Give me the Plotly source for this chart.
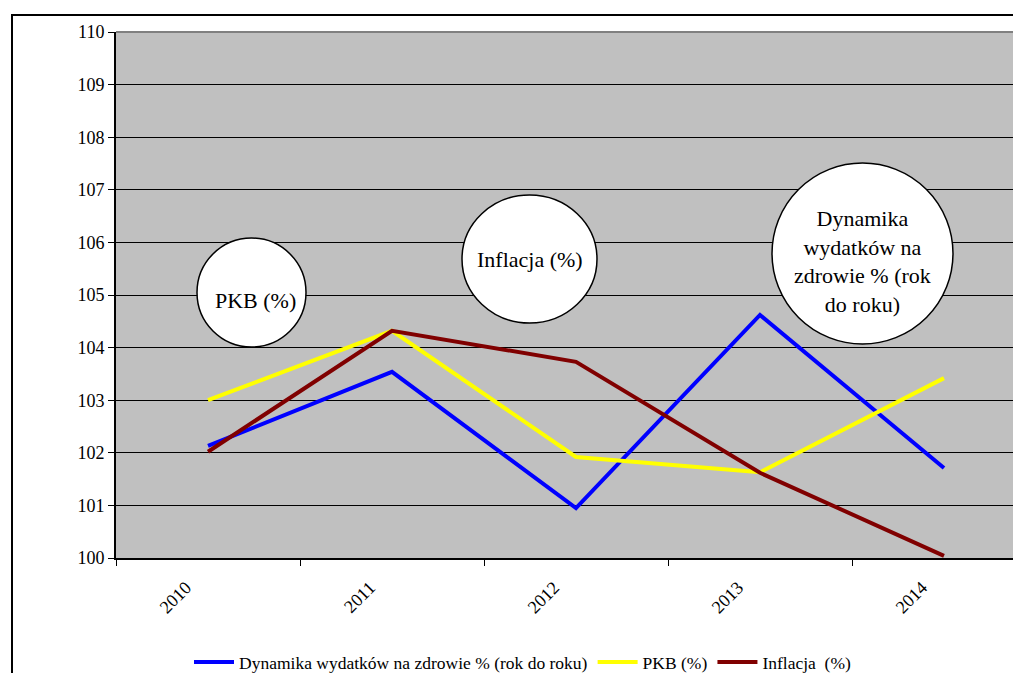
import plotly.graph_objects as go

years = ['2010', '2011', '2012', '2013', '2014']
dynamika = [102.13, 103.54, 100.95, 104.62, 101.71]
pkb = [103.0, 104.32, 101.92, 101.63, 103.42]
inflacja = [102.02, 104.32, 103.73, 101.62, 100.04]

# page is offset by the 8px body margin, so figure coords = page coords - 8
OFF = 8
W, H = 1013, 665
L, R, T, B = 116 - OFF, 1021 - OFF, 32 - OFF, 558 - OFF
CAT = 184.0  # px per category


def px(x):
    return (x - OFF - L) / (R - L)


def py(y):
    return (B - (y - OFF)) / (B - T)


serif = 'Liberation Serif'

fig = go.Figure()
fig.add_trace(go.Scatter(x=years, y=dynamika, mode='lines', name='Dynamika wydatków na zdrowie % (rok do roku)',
                         line=dict(color='#0000FF', width=4)))
fig.add_trace(go.Scatter(x=years, y=pkb, mode='lines', name='PKB (%)',
                         line=dict(color='#FFFF00', width=4)))
fig.add_trace(go.Scatter(x=years, y=inflacja, mode='lines', name='Inflacja  (%)',
                         line=dict(color='#800000', width=4)))

shapes = []
# outer chart border
shapes.append(dict(type='rect', xref='paper', yref='paper',
                   x0=px(12), x1=px(1040), y0=py(15), y1=py(690),
                   line=dict(color='black', width=2), fillcolor='rgba(0,0,0,0)', layer='above'))
# top edge of plot area is grey
shapes.append(dict(type='line', xref='paper', yref='paper', x0=0, x1=1, y0=1, y1=1,
                   line=dict(color='#808080', width=2), layer='above'))
# callout circles
circles = [(197, 238, 306, 347), (462, 195, 597, 323), (772, 163, 953, 344)]
for x0, y0, x1, y1 in circles:
    shapes.append(dict(type='circle', xref='paper', yref='paper',
                       x0=px(x0), x1=px(x1), y0=py(y1), y1=py(y0),
                       line=dict(color='black', width=1.5), fillcolor='white', layer='above'))

labels = ['PKB (%)', 'Inflacja (%)', 'Dynamika<br>wydatków na<br>zdrowie % (rok<br>do roku)']
shifts = [(4, -8), (0, -1), (0, -8)]
annotations = []
for (x0, y0, x1, y1), txt, (dx, dy) in zip(circles, labels, shifts):
    annotations.append(dict(x=px((x0 + x1) / 2), y=py((y0 + y1) / 2), xref='paper', yref='paper',
                            text=txt, showarrow=False, font=dict(family=serif, size=22, color='black'),
                            xanchor='center', yanchor='middle', xshift=dx, yshift=dy))

fig.update_layout(
    width=W, height=H,
    margin=dict(l=L, r=W - R, t=T, b=H - B, autoexpand=False),
    paper_bgcolor='white', plot_bgcolor='#C0C0C0',
    font=dict(family=serif, size=16, color='black'),
    shapes=shapes, annotations=annotations,
    showlegend=True,
    legend=dict(orientation='h', x=px(523), xanchor='center', y=py(662), yanchor='middle',
                font=dict(family=serif, size=17.5), itemwidth=40, tracegroupgap=0),
    xaxis=dict(type='category', range=[-0.5, -0.5 + (R - L) / CAT], tickson='boundaries',
               ticks='outside', ticklen=6, tickcolor='black', tickangle=-45,
               ticklabelshift=-22, ticklabelstandoff=10, automargin=False,
               showline=True, linecolor='black', linewidth=2, showgrid=False,
               tickfont=dict(family=serif, size=18)),
    yaxis=dict(range=[100, 110], dtick=1, ticks='outside', ticklen=6, tickcolor='black',
               automargin=False,
               showline=True, linecolor='black', linewidth=2, gridcolor='black', gridwidth=1.2,
               zeroline=False, tickfont=dict(family=serif, size=18)),
)

fig.write_html('out.html')
